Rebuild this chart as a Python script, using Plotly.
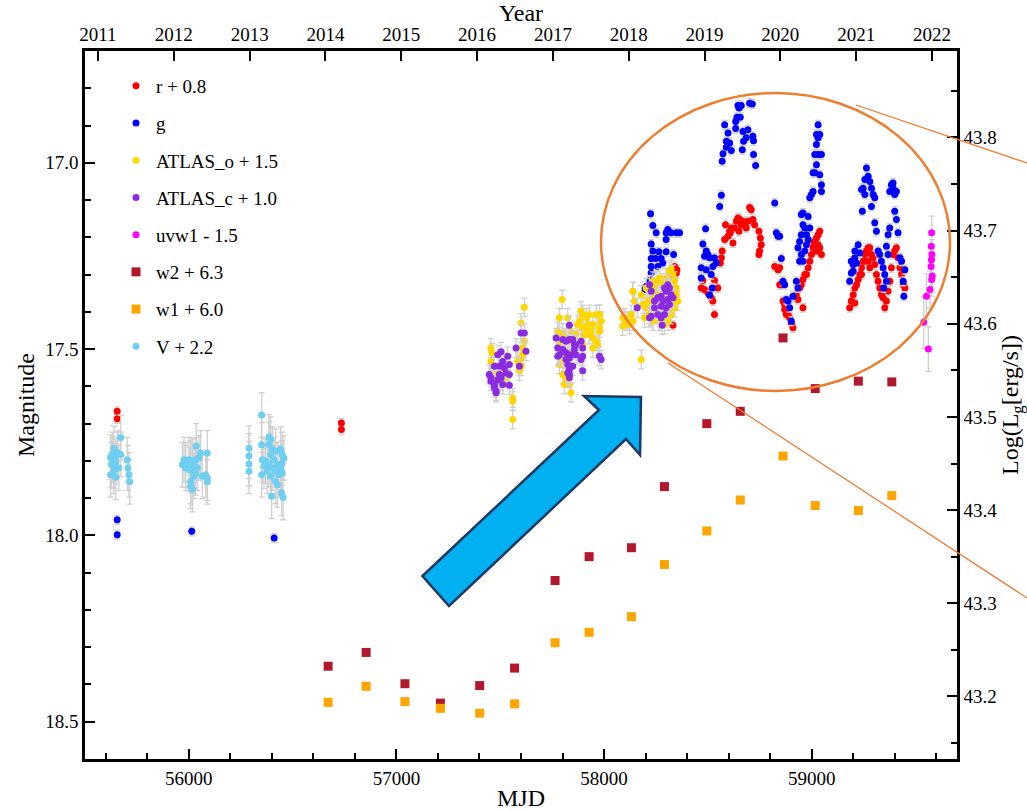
import datetime as dt
import plotly.graph_objects as go

# ---------------------------------------------------------------- light curves
# r band (offset +0.8)
r_mjd = [55655, 55655, 56735, 56735,
         58340, 58351, 58323, 58332, 58348,
         58476, 58468, 58484, 58532, 58548, 58500, 58516, 58524, 58532, 58569, 58565, 58560,
         58585, 58581, 58597, 58608, 58621, 58629, 58637, 58645, 58653, 58661, 58669, 58677, 58685,
         58701, 58709, 58717, 58725, 58746, 58753, 58757, 58749, 58746, 58605, 58613, 58650, 58693,
         58822, 58838, 58846, 58870, 58878,
         58846, 58854, 58862, 58870, 58878, 58886, 58894, 58902, 58910, 58918, 58926, 58934, 58942,
         58950, 58958, 58967, 58958, 58975, 58983, 58991, 58999, 59007, 59015, 59023, 59031, 59039,
         59047, 59023, 59015, 59007, 59031, 59039,
         59183, 59191, 59200, 59208, 59216, 59224, 59208,
         59232, 59240, 59248, 59256, 59264, 59272, 59280, 59288, 59296, 59304, 59312, 59320, 59328, 59336,
         59344, 59352, 59360, 59368, 59376, 59384, 59392, 59400, 59408, 59416, 59425, 59433, 59441, 59449,
         59272, 59280, 59256, 59240]
r_mag = [17.667, 17.687, 17.698, 17.716,
         17.278, 17.287, 17.304, 17.436, 17.296,
         17.316, 17.336, 17.340, 17.316, 17.336, 17.349, 17.362, 17.371, 17.407, 17.237, 17.255, 17.269,
         17.166, 17.206, 17.197, 17.188, 17.215, 17.175, 17.157, 17.148, 17.152, 17.166, 17.157, 17.166, 17.175,
         17.120, 17.126, 17.152, 17.166, 17.184, 17.202, 17.220, 17.237, 17.246, 17.184, 17.175, 17.184, 17.157,
         17.278, 17.287, 17.327, 17.394, 17.407,
         17.282, 17.327, 17.371, 17.380, 17.394, 17.407, 17.416, 17.430, 17.443, 17.362, 17.354, 17.367, 17.336,
         17.327, 17.313, 17.300, 17.389, 17.300, 17.282, 17.264, 17.246, 17.228, 17.220, 17.202, 17.193, 17.184,
         17.246, 17.237, 17.211, 17.215, 17.220, 17.228,
         17.389, 17.371, 17.354, 17.336, 17.327, 17.313, 17.376,
         17.300, 17.282, 17.264, 17.246, 17.237, 17.228, 17.228, 17.246, 17.255, 17.273, 17.300, 17.318, 17.336,
         17.354, 17.362, 17.389, 17.371, 17.345, 17.318, 17.282, 17.246, 17.237, 17.228, 17.255, 17.282, 17.300,
         17.327, 17.336,
         17.264, 17.282, 17.264, 17.300]

# g band
g_mjd = [55655, 55655, 56014, 56411,
         58224, 58235, 58251, 58227, 58235, 58264, 58299, 58335, 58227, 58248, 58275, 58227, 58259,
         58283, 58227, 58219, 58203, 58235, 58275, 58299, 58307, 58323, 58348, 58364, 58299, 58195,
         58489, 58476, 58492, 58500, 58484, 58508, 58532, 58540, 58524, 58468, 58492, 58516, 58468,
         58521, 58508,
         58565, 58557, 58581, 58597, 58589, 58605, 58589, 58613, 58573, 58569, 58634, 58640, 58656,
         58650, 58634, 58669, 58693, 58685, 58672, 58666, 58717, 58720, 58720, 58730, 58701, 58714,
         58645, 58661,
         58822, 58830, 58838,
         58846, 58854, 58862, 58870, 58878, 58886, 58894, 58902, 58910, 58926, 58934, 58942,
         58934, 58942, 58950, 58958, 58950, 58958, 58967, 58975, 58950, 58958, 58983, 58975, 58967,
         58991, 58999, 59007, 59007, 59015, 59023, 59031, 59015, 59023, 59031, 59039, 59023, 59031,
         59047, 59039, 59047, 59047, 58991, 58983,
         59183, 59191, 59200, 59191, 59208, 59216, 59224, 59208, 59200, 59232,
         59240, 59248, 59256, 59264, 59272, 59280, 59288, 59296, 59304, 59256,
         59244, 59288, 59304, 59312, 59320, 59328, 59336, 59344, 59352, 59360,
         59347, 59368, 59376, 59384, 59392, 59400, 59408, 59400, 59408, 59416,
         59360, 59368, 59425, 59433, 59449, 59441, 59444, 59376, 59392]
g_mag = [17.958, 17.998, 17.989, 18.007,
         17.137, 17.168, 17.188, 17.218, 17.237, 17.239, 17.239, 17.246, 17.257, 17.257, 17.257, 17.278, 17.278,
         17.269, 17.296, 17.316, 17.331, 17.334, 17.318, 17.188, 17.179, 17.188, 17.188, 17.188, 17.206, 17.340,
         17.177, 17.218, 17.237, 17.246, 17.251, 17.255, 17.255, 17.269, 17.278, 17.282, 17.287, 17.300, 17.309,
         17.336, 17.355,
         17.087, 17.117, 16.898, 16.920, 16.942, 16.947, 16.958, 16.967, 16.976, 16.996, 16.889, 16.878, 16.878,
         16.853, 16.908, 16.916, 16.911, 16.933, 16.942, 16.965, 16.929, 16.941, 16.978, 17.007, 16.840, 16.842,
         16.846, 16.846,
         17.108, 17.188, 17.197,
         17.197, 17.257, 17.318, 17.327, 17.367, 17.371, 17.389, 17.425, 17.358, 17.318, 17.336, 17.264,
         17.228, 17.211, 17.193, 17.166, 17.139, 17.135, 17.175, 17.193, 17.246, 17.264, 17.144, 17.220, 17.237,
         17.094, 17.085, 17.077, 17.027, 17.027, 17.005, 16.978, 16.978, 16.951, 16.933, 16.924, 16.924, 16.898,
         16.978, 17.032, 17.059, 17.077, 17.175, 17.206,
         17.318, 17.296, 17.273, 17.264, 17.255, 17.269, 17.220, 17.237, 17.291, 17.242,
         17.072, 17.068, 17.045, 17.014, 17.036, 17.050, 17.068, 17.085, 17.094, 17.085,
         17.130, 17.117, 17.161, 17.184, 17.237, 17.246, 17.264, 17.282, 17.300, 17.318,
         17.336, 17.193, 17.175, 17.059, 17.068, 17.085, 17.077, 17.130, 17.152, 17.188,
         17.224, 17.246, 17.255, 17.264, 17.287, 17.318, 17.358, 17.077, 17.054]

# ATLAS orange (offset +1.5)
o_mjd = [57455, 57460, 57455, 57472, 57480, 57496, 57504, 57512, 57528, 57536, 57560, 57560, 57560,
         57592, 57600, 57608, 57616, 57600, 57616, 57600, 57584, 57608,
         57798, 57785, 57825, 57777, 57801, 57817, 57785, 57801, 57817, 57841, 57849, 57865, 57881,
         57889, 57897, 57914, 57930, 57946, 57962, 57978, 57986, 57914, 57930, 57946, 57962, 57978,
         57946, 57970, 57922, 57938, 57897, 57905, 57873, 57897, 57825, 57801, 57809, 57817, 57833,
         57841, 57785,
         58090, 58106, 58122, 58138, 58179,
         58098, 58115, 58090, 58139, 58147, 58131, 58139, 58195, 58203, 58219, 58235, 58243, 58251,
         58267, 58283, 58299, 58315, 58323, 58332, 58340, 58348, 58348, 58356, 58340, 58323, 58307,
         58291, 58267, 58235, 58219, 58211, 58259, 58299, 58315, 58187, 58179, 58203, 58235, 58332,
         57978, 57986, 57978]
o_mag = [17.497, 17.510, 17.533, 17.546, 17.568, 17.577, 17.586, 17.559, 17.577, 17.568, 17.631, 17.640, 17.689,
         17.559, 17.546, 17.515, 17.479, 17.430, 17.388, 17.524, 17.533, 17.497,
         17.367, 17.416, 17.416, 17.452, 17.457, 17.470, 17.488, 17.524, 17.506, 17.452, 17.479, 17.461, 17.425,
         17.398, 17.407, 17.416, 17.407, 17.434, 17.407, 17.407, 17.425, 17.443, 17.461, 17.470, 17.479, 17.452,
         17.497, 17.488, 17.434, 17.452, 17.443, 17.461, 17.434, 17.488, 17.533, 17.568, 17.595, 17.577, 17.595,
         17.617, 17.541,
         17.416, 17.425, 17.434, 17.345, 17.528,
         17.416, 17.425, 17.438, 17.346, 17.371, 17.407, 17.425, 17.416, 17.389, 17.371, 17.354, 17.336, 17.318,
         17.309, 17.322, 17.309, 17.291, 17.286, 17.300, 17.318, 17.336, 17.354, 17.371, 17.389, 17.407, 17.425,
         17.434, 17.425, 17.425, 17.407, 17.371, 17.354, 17.354, 17.336, 17.380, 17.354, 17.336, 17.318, 17.371,
         17.407, 17.425, 17.443]

# ATLAS cyan (offset +1.0)
c_mjd = [57447, 57455, 57455, 57472, 57480, 57488, 57504, 57512, 57520, 57536, 57544, 57544, 57528,
         57496, 57472, 57488, 57504, 57512, 57544, 57576, 57592, 57600, 57616, 57624, 57472, 57480, 57496,
         57833, 57769, 57777, 57777, 57801, 57817, 57833, 57849, 57865, 57889, 57897, 57897, 57889, 57857,
         57865, 57833, 57817, 57825, 57833, 57833, 57833, 57825, 57897, 57978, 57986, 57849, 57841, 57801,
         57817, 57785, 57857,
         58160, 58219, 58227, 58243, 58259, 58275, 58283, 58291, 58299, 58307, 58315, 58323, 58332,
         58315, 58299, 58291, 58275, 58259, 58243, 58227, 58219, 58280, 58275, 58307]
c_mag = [17.568, 17.577, 17.586, 17.595, 17.613, 17.515, 17.507, 17.533, 17.550, 17.519, 17.541, 17.568, 17.564,
         17.546, 17.546, 17.582, 17.577, 17.595, 17.597, 17.497, 17.546, 17.457, 17.457, 17.506, 17.604, 17.617, 17.568,
         17.436, 17.470, 17.497, 17.519, 17.474, 17.479, 17.474, 17.474, 17.488, 17.479, 17.497, 17.519, 17.528, 17.501,
         17.515, 17.524, 17.528, 17.541, 17.555, 17.568, 17.577, 17.564, 17.558, 17.519, 17.528, 17.546, 17.515, 17.501,
         17.510, 17.515, 17.488,
         17.389, 17.327, 17.345, 17.371, 17.362, 17.358, 17.371, 17.336, 17.345, 17.327, 17.336, 17.354, 17.362,
         17.380, 17.389, 17.407, 17.416, 17.407, 17.389, 17.412, 17.416, 17.436, 17.385, 17.367]

# Swift uvw1 (offset -1.5)
uvw1_mjd = [59578, 59576, 59579, 59577, 59575, 59581, 59578, 59570, 59553, 59540, 59562]
uvw1_mag = [17.188, 17.224, 17.246, 17.260, 17.278, 17.304, 17.313, 17.340, 17.358, 17.428, 17.500]
uvw1_err = [0.045, 0.04, 0.04, 0.04, 0.04, 0.045, 0.045, 0.05, 0.06, 0.07, 0.06]

# WISE w2 (offset +6.3) and w1 (offset +6.0)
wise_mjd = [56671, 56854, 57041, 57212, 57401, 57569, 57764, 57928, 58132, 58291, 58495, 58656,
            58862, 59017, 59225, 59386]
w2_mag = [18.351, 18.314, 18.398, 18.450, 18.403, 18.356, 18.121, 18.057, 18.033, 17.869, 17.700, 17.667,
          17.470, 17.606, 17.586, 17.588]
w1_mag = [18.448, 18.405, 18.446, 18.464, 18.477, 18.452, 18.288, 18.260, 18.218, 18.078, 17.988, 17.905,
          17.787, 17.920, 17.933, 17.893]

# V band (offset +2.2)
v_mjd = [55672, 55639, 55659, 55672, 55623, 55631, 55648, 55703, 55627, 55639, 55663, 55706, 55623,
         55648, 55712, 55715, 55639, 55655, 55631,
         56036, 55977, 55985, 56001, 56009, 56017, 56025, 56033, 56049, 56057, 56089, 55969, 55985,
         56001, 56017, 56033, 56041, 56081, 56089, 56089, 56009, 56009, 56017, 56065, 56025,
         56351, 56290, 56290, 56290, 56290, 56351, 56386, 56394, 56386, 56402, 56394, 56418, 56442,
         56450, 56458, 56450, 56442, 56450, 56434, 56418, 56402, 56386, 56370, 56354, 56362, 56351,
         56378, 56394, 56418, 56426, 56399, 56447, 56454, 56410, 56426]
v_mag = [17.737, 17.767, 17.779, 17.783, 17.790, 17.797, 17.801, 17.797, 17.810, 17.814, 17.819, 17.819, 17.837,
         17.844, 17.837, 17.856, 17.828, 17.783, 17.783,
         17.760, 17.797, 17.810, 17.797, 17.806, 17.801, 17.814, 17.797, 17.792, 17.779, 17.779, 17.810, 17.819,
         17.823, 17.828, 17.832, 17.819, 17.837, 17.846, 17.856, 17.855, 17.868, 17.877, 17.841, 17.841,
         17.677, 17.766, 17.787, 17.808, 17.828, 17.757, 17.736, 17.742, 17.756, 17.769, 17.783, 17.774, 17.769,
         17.783, 17.792, 17.806, 17.819, 17.832, 17.837, 17.828, 17.819, 17.810, 17.801, 17.797, 17.814, 17.837,
         17.828, 17.841, 17.855, 17.864, 17.895, 17.886, 17.898, 17.797, 17.810]

# typical photometric uncertainties
R_ERR, G_ERR, ATLAS_ERR, V_ERR, WISE_ERR = 0.012, 0.012, 0.025, 0.06, 0.006

# luminosity scale on the right: log L_g = 43.8 at g = 16.932
LOGL_REF, G_REF = 43.8, 16.932
MAG_RANGE = [18.6, 16.7]
MJD_RANGE = [55500, 59700]
years = list(range(2011, 2023))

# ---------------------------------------------------------------- styling
FONT = "Liberation Serif, Times New Roman, serif"
W, H = 1027, 811
PL, PR, PT, PB = 85, 957, 51, 759   # plot box in pixels
ERR_COLOR = "#cfcfcf"


def to_paper(px, py):
    return (px - PL) / (PR - PL), (PB - py) / (PB - PT)


def mag_to_logl(m):
    return LOGL_REF + 0.4 * (G_REF - m)


def year_to_mjd(y):
    return (dt.date(y, 1, 1) - dt.date(1858, 11, 17)).days


def err_list(err, n):
    return err if isinstance(err, list) else [err] * n


fig = go.Figure()


def add_series(x, y, err, name, color, symbol="circle", size=7):
    fig.add_trace(go.Scatter(
        x=x, y=y, mode="markers", name=name, legendgroup=name,
        marker=dict(color=color, size=size, symbol=symbol, line=dict(width=0)),
        error_y=dict(type="data", array=err_list(err, len(y)), color=ERR_COLOR,
                     thickness=1.3, width=3),
    ))


add_series(r_mjd, r_mag, R_ERR, "r + 0.8", "#ff0000")
add_series(g_mjd, g_mag, G_ERR, "g", "#0000ff")
add_series(o_mjd, o_mag, ATLAS_ERR, "ATLAS_o + 1.5", "#ffd700")
add_series(c_mjd, c_mag, ATLAS_ERR, "ATLAS_c + 1.0", "#8a2be2")
add_series(uvw1_mjd, uvw1_mag, uvw1_err, "uvw1 - 1.5", "#ff00ff")
add_series(wise_mjd, w2_mag, WISE_ERR, "w2 + 6.3", "#b2182b", symbol="square", size=9)
add_series(wise_mjd, w1_mag, WISE_ERR, "w1 + 6.0", "#ffa500", symbol="square", size=9)
add_series(v_mjd, v_mag, V_ERR, "V + 2.2", "#6ecff0")

# secondary axes (calendar years on top, luminosity on the right)
fig.add_trace(go.Scatter(x=[None], y=[None], xaxis="x2", yaxis="y2", showlegend=False,
                         hoverinfo="skip", mode="markers"))

TICKFONT = dict(family=FONT, size=19, color="black")
TITLEFONT = dict(family=FONT, size=24, color="black")
axis_common = dict(showline=True, linecolor="black", linewidth=2.5, ticks="inside",
                   tickcolor="black", tickwidth=2, ticklen=10, showgrid=False, zeroline=False,
                   automargin=False, tickfont=TICKFONT)
minor_common = dict(ticks="inside", ticklen=6, tickwidth=2, tickcolor="black", showgrid=False)

fig.update_layout(
    width=W, height=H,
    margin=dict(l=PL, r=W - PR, t=PT, b=H - PB),
    paper_bgcolor="white", plot_bgcolor="white",
    font=dict(family=FONT, color="black"),
    xaxis=dict(range=MJD_RANGE, tick0=56000, dtick=1000, tickformat="d", **axis_common,
               minor=dict(dtick=200, **minor_common),
               title=dict(text="MJD", font=TITLEFONT, standoff=4)),
    xaxis2=dict(range=MJD_RANGE, overlaying="x", side="top", anchor="y",
                tickvals=[year_to_mjd(y) for y in years], ticktext=[str(y) for y in years],
                **axis_common,
                title=dict(text="Year", font=TITLEFONT, standoff=0)),
    yaxis=dict(range=MAG_RANGE, tick0=17.0, dtick=0.5, tickformat=".1f", **axis_common,
               minor=dict(dtick=0.1, **minor_common),
               title=dict(text="Magnitude", font=TITLEFONT, standoff=4)),
    yaxis2=dict(range=[mag_to_logl(MAG_RANGE[0]), mag_to_logl(MAG_RANGE[1])], overlaying="y",
                side="right", anchor="x", tick0=43.0, dtick=0.1, tickformat=".1f", **axis_common,
                minor=dict(dtick=0.05, **minor_common),
                title=dict(text="Log(L<sub>g</sub>[erg/s])", font=TITLEFONT, standoff=4)),
    legend=dict(x=to_paper(116, 0)[0], y=to_paper(0, 67)[1], xanchor="left", yanchor="top",
                font=dict(family=FONT, size=19, color="black"), bgcolor="rgba(0,0,0,0)",
                itemsizing="trace", tracegroupgap=9.5),
    showlegend=True,
)

# ---------------------------------------------------------------- call-outs
ORANGE = "#ed7d31"
ex0, ey0 = to_paper(601, 93)
ex1, ey1 = to_paper(950, 391)
fig.add_shape(type="circle", xref="paper", yref="paper", x0=ex0, y0=ey1, x1=ex1, y1=ey0,
              line=dict(color=ORANGE, width=2.5))

for (ax, ay), (bx, by) in [((856, 105), (1027, 163)), ((668, 363), (1027, 598))]:
    p0, p1 = to_paper(ax, ay), to_paper(bx, by)
    fig.add_shape(type="line", xref="paper", yref="paper", x0=p0[0], y0=p0[1], x1=p1[0], y1=p1[1],
                  line=dict(color=ORANGE, width=1.3))

arrow_px = [(422.5, 576), (599, 410), (584, 396), (641, 397), (640, 455), (626, 439), (449, 606)]
arrow_pp = [to_paper(x, y) for x, y in arrow_px]
path = "M " + " L ".join(f"{x:.4f},{y:.4f}" for x, y in arrow_pp) + " Z"
fig.add_shape(type="path", xref="paper", yref="paper", path=path,
              fillcolor="#00b0f0", line=dict(color="#1f3864", width=2.5))

fig.write_html("out.html")
